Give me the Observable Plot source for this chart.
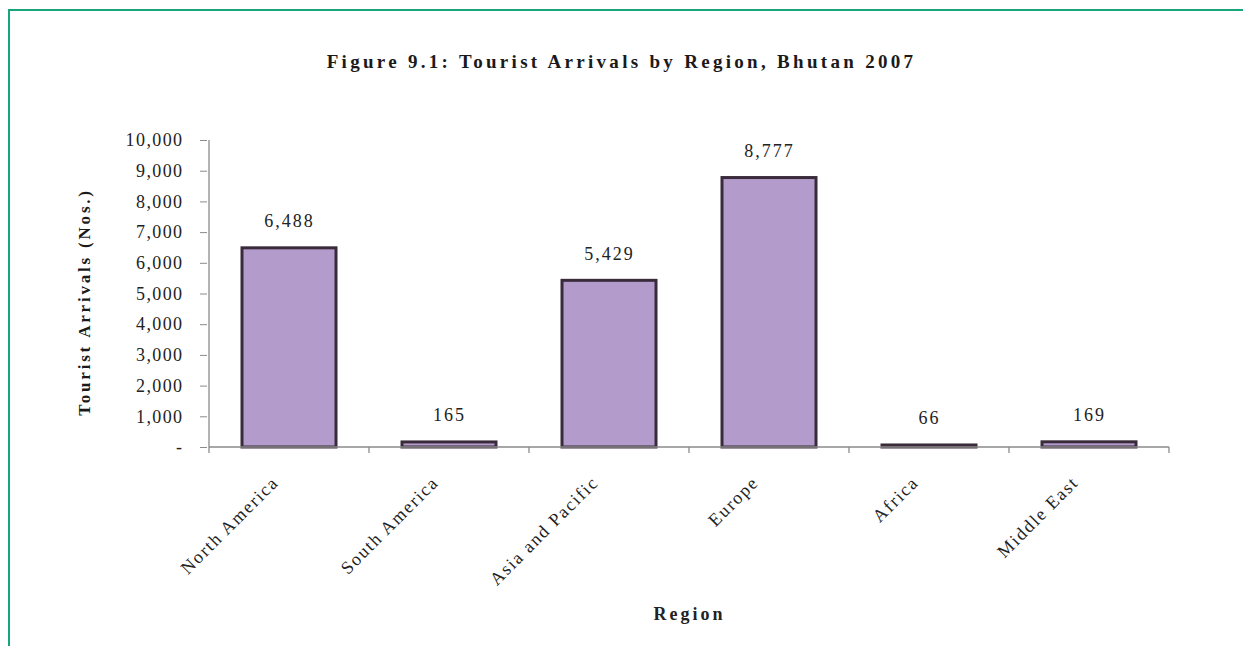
<!DOCTYPE html>
<html>
<head>
<meta charset="utf-8">
<script src="https://cdn.jsdelivr.net/npm/d3@7"></script>
<script src="https://cdn.jsdelivr.net/npm/@observablehq/plot@0.6"></script>
<style>
  html, body { margin: 0; padding: 0; background: #fff; }
  body { width: 1243px; height: 646px; position: relative; overflow: hidden; font-family: "Liberation Serif", serif; }
  #frameTop { position: absolute; left: 8px; top: 9px; width: 1235px; height: 2px; background: #16a57c; }
  #frameLeft { position: absolute; left: 8px; top: 9px; width: 2px; height: 637px; background: #16a57c; }
  #title { position: absolute; left: 0; width: 1243px; top: 51px; text-align: center; font-weight: bold; font-size: 19px; letter-spacing: 3.3px; color: #1a1a1a; }
  #ylabel { position: absolute; left: 85px; top: 302px; transform: translate(-50%, -50%) rotate(-90deg); white-space: nowrap; font-weight: bold; font-size: 17px; letter-spacing: 2.8px; color: #1a1a1a; }
  #chart { position: absolute; left: 0; top: 0; }
  g[aria-label="x-axis label"] text { letter-spacing: 3px; font-weight: bold; }
  g[aria-label="x-axis tick label"] text { letter-spacing: 1.7px; }
  g[aria-label="y-axis tick label"] text { letter-spacing: 1.4px; }
  g[aria-label="text"] text { letter-spacing: 2px; }
</style>
</head>
<body>
<div id="frameTop"></div>
<div id="frameLeft"></div>
<div id="title">Figure 9.1: Tourist Arrivals by Region, Bhutan 2007</div>
<div id="ylabel">Tourist Arrivals (Nos.)</div>
<div id="chart"></div>
<script>
const regions = ["North America", "South America", "Asia and Pacific", "Europe", "Africa", "Middle East"];
const arrivals = [6488, 165, 5429, 8777, 66, 169];
const yTicks = [0, 1000, 2000, 3000, 4000, 5000, 6000, 7000, 8000, 9000, 10000];

const data = regions.map((r, i) => ({region: r, value: arrivals[i]}));
const fmt = d3.format(",");

// axis lines and between-category tick marks, positioned through the scales
function axisLines(index, scales, values, dimensions) {
  const x = scales.x, y = scales.y;
  const step = x.step(), bw = x.bandwidth();
  const gap = (step - bw) / 2;
  const y0 = y(0), yTop = y(10000);
  const xStart = x(regions[0]) - gap;
  const xEnd = x(regions[regions.length - 1]) + bw + gap;
  const g = d3.create("svg:g").attr("stroke", "#8a8a8a").attr("stroke-width", 1.3);
  g.append("line").attr("x1", xStart).attr("x2", xStart).attr("y1", yTop).attr("y2", y0);
  g.append("line").attr("x1", xStart).attr("x2", xEnd).attr("y1", y0).attr("y2", y0);
  const bounds = regions.map(r => x(r) - gap).concat([xEnd]);
  for (const b of bounds) {
    g.append("line").attr("x1", b).attr("x2", b).attr("y1", y0).attr("y2", y0 + 6);
  }
  return g.node();
}

const chart = Plot.plot({
  width: 1243,
  height: 646,
  marginLeft: 207,
  marginRight: 72,
  marginTop: 140,
  marginBottom: 199,
  style: {fontFamily: "Liberation Serif, serif", fontSize: "18px", color: "#222", background: "transparent"},
  x: {domain: regions, paddingInner: 0.41, paddingOuter: 0.205},
  y: {domain: [0, 10000]},
  marks: [
    Plot.axisY({
      ticks: yTicks,
      tickFormat: d => d === 0 ? "-" : fmt(d),
      tickSize: 7,
      tickPadding: 17,
      stroke: "#8a8a8a",
      label: null,
      fontSize: 18
    }),
    Plot.axisX({
      tickSize: 0,
      tickRotate: -45,
      tickPadding: 32,
      dx: -14,
      label: "Region",
      labelAnchor: "center",
      labelOffset: 172,
      fontSize: 18
    }),
    Plot.barY(data, {x: "region", y: "value", fill: "#b39bcb", stroke: "#3a2b3b", strokeWidth: 3}),
    Plot.text(data, {x: "region", y: "value", text: d => fmt(d.value), dy: -27, fontSize: 18, fill: "#222"}),
    axisLines
  ]
});
document.getElementById("chart").appendChild(chart);
</script>
</body>
</html>
